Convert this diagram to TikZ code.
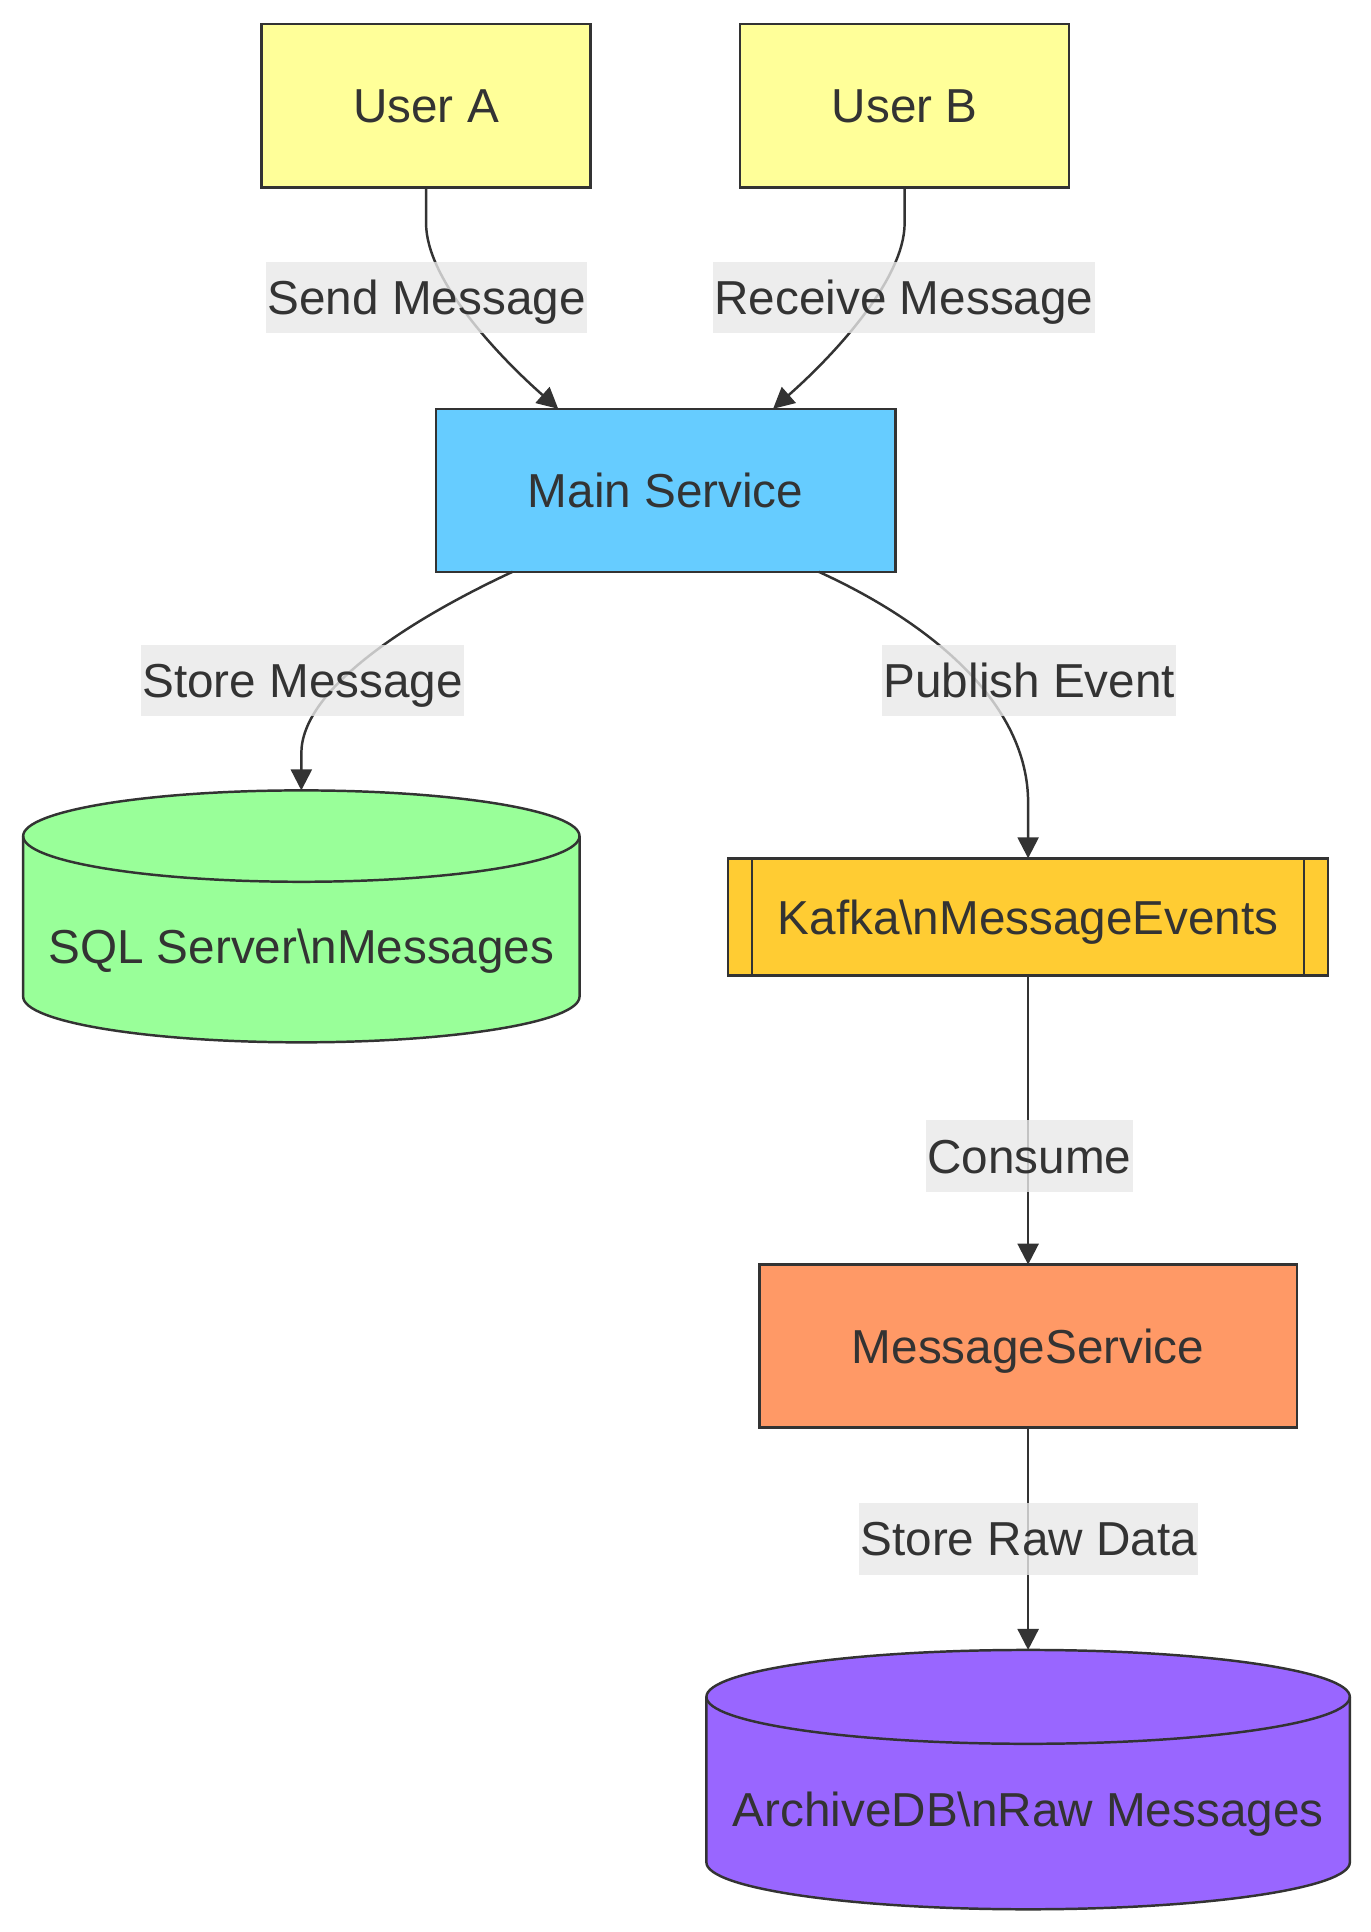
\documentclass[tikz,border=0pt]{standalone}
\usepackage{fontspec}
\setmainfont{Liberation Sans}
\usetikzlibrary{arrows.meta,calc}

\definecolor{userfill}{HTML}{FFFF99}
\definecolor{mainfill}{HTML}{66CCFF}
\definecolor{sqlfill}{HTML}{99FF99}
\definecolor{kafkafill}{HTML}{FFCC33}
\definecolor{msgfill}{HTML}{FF9966}
\definecolor{archfill}{HTML}{9966FF}
\definecolor{linegray}{HTML}{333333}
\definecolor{textgray}{HTML}{333333}
\definecolor{lblgray}{HTML}{E8E8E8}

\newcommand{\chartfont}{\fontsize{38.6pt}{46pt}\selectfont}

% draws a database cylinder over an (invisible) node
\newcommand{\dbcyl}[3]{%
  \filldraw[draw=linegray, line width=2pt, fill=#2] let \p1=(#1.north west), \p2=(#1.south east), \n1={0.5*(\x2-\x1)} in
    ([yshift=-#3]#1.north west) arc[start angle=180, end angle=0, x radius=\n1, y radius=#3]
    -- ([yshift=#3]#1.south east) arc[start angle=0, end angle=-180, x radius=\n1, y radius=#3] -- cycle;
  \draw[draw=linegray, line width=2pt] let \p1=(#1.north west), \p2=(#1.south east), \n1={0.5*(\x2-\x1)} in
    ([yshift=-#3]#1.north west) arc[start angle=180, end angle=360, x radius=\n1, y radius=#3];
}

\tikzset{
  box/.style={draw=linegray, line width=2pt, text=textgray, inner sep=0pt, outer sep=0pt,
    text height=27.6pt, text depth=0pt, font=\chartfont},
  userbox/.style={box, fill=userfill, minimum width=266.5pt, minimum height=132.5pt},
  mainbox/.style={box, fill=mainfill, minimum width=372pt, minimum height=132pt},
  msgbox/.style={box, fill=msgfill, minimum width=435pt, minimum height=132pt},
  kafkabox/.style={box, fill=kafkafill, minimum width=486pt, minimum height=95pt,
    path picture={
      \draw[draw=linegray, line width=2pt]
        ([xshift=19.5pt]path picture bounding box.north west) -- ([xshift=19.5pt]path picture bounding box.south west)
        ([xshift=-19.5pt]path picture bounding box.north east) -- ([xshift=-19.5pt]path picture bounding box.south east);
    }},
  dbbox/.style={inner sep=0pt, outer sep=0pt},
  dbtext/.style={text=textgray, inner sep=0pt, text height=27.6pt, text depth=0pt, font=\chartfont},
  flow/.style={draw=linegray, line width=2pt, -{Triangle[length=17pt, width=17pt]}},
  elabel/.style={fill=lblgray, fill opacity=0.8, text opacity=1, text=textgray, inner xsep=1pt, inner ysep=0pt,
    minimum height=58pt, text height=27.6pt, text depth=0pt, font=\chartfont}
}

\begin{document}
\begin{tikzpicture}[x=1pt, y=-1pt]
    \useasboundingbox (0,0) rectangle (1110.1,1564.4);
    % Users and main service
    \node[userbox] (ua) at (345,85.5) {User A};
    \node[userbox] (ub) at (732.5,85.5) {User B};
    \node[mainbox] (ms) at (539,397) {Main Service};
    % Storage and messaging
    \node[dbbox, minimum width=450.5pt, minimum height=204pt] (sql) at (244,742) {};
    \dbcyl{sql}{sqlfill}{37pt}
    \node[dbtext] (sqltext) at ([yshift=-24pt]sql.center) {SQL Server\textbackslash nMessages};
    \node[kafkabox] (kafka) at (832.5,742.5) {Kafka\textbackslash nMessageEvents};
    \node[msgbox] (msgsvc) at (832.5,1090) {MessageService};
    \node[dbbox, minimum width=521pt, minimum height=210pt] (arch) at (832.5,1441) {};
    \dbcyl{arch}{archfill}{38pt}
    \node[dbtext] (archtext) at ([yshift=-24pt]arch.center) {ArchiveDB\textbackslash nRaw Messages};
    % Connectors
    \draw[flow] (ua.south) -- ++(0,29) .. controls +(0,45) and +(-50,-44) .. ([xshift=-87pt]ms.north);
    \draw[flow] (ub.south) -- ++(0,29) .. controls +(0,45) and +(50,-44) .. ([xshift=87pt]ms.north);
    \draw[flow] ([xshift=-124pt]ms.south) .. controls +(-90,42) and +(0,-50) .. ([yshift=30pt]sql.north) -- (sql.north);
    \draw[flow] ([xshift=124pt]ms.south) .. controls +(92,42) and +(0,-80) .. ([yshift=45pt]kafka.north) -- (kafka.north);
    \draw[flow] (kafka) -- (msgsvc);
    \draw[flow] (msgsvc) -- (arch);
    % Edge labels
    \node[elabel] (lsend) at (345.5,241) {Send Message};
    \node[elabel] (lrecv) at (732,241) {Receive Message};
    \node[elabel] (lstore) at (245,551) {Store Message};
    \node[elabel] (lpub) at (833.5,551) {Publish Event};
    \node[elabel] (lcons) at (833.5,936) {Consume};
    \node[elabel] (lraw) at (833,1246) {Store Raw Data};
\end{tikzpicture}
\end{document}
